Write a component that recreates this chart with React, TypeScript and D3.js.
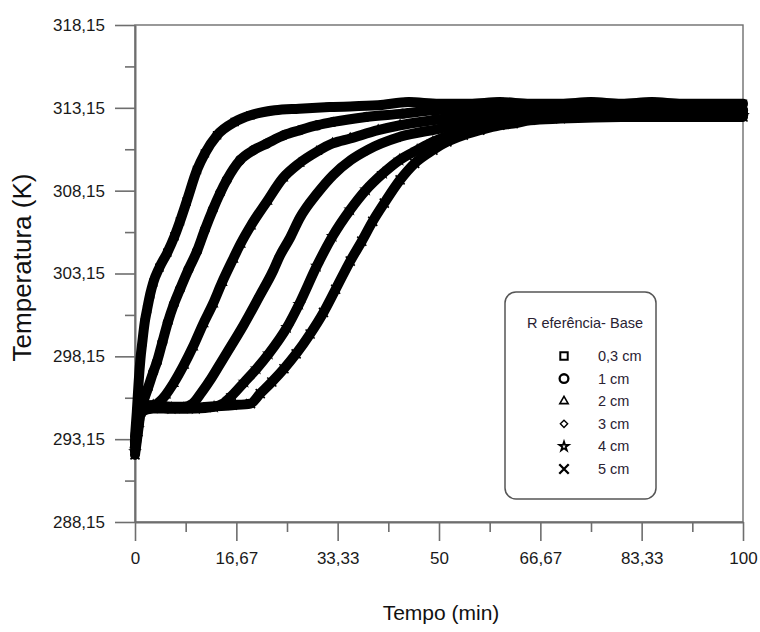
import React, { useEffect, useRef } from 'react';
import * as d3 from 'd3';

// Temperature readings (K) versus time (min) for each sensor depth
const t03 = [0, 0.3, 0.6, 0.9, 1.2, 1.6, 2.0, 2.5, 3.0, 4.0, 5.3, 6.5, 7.4, 8.5, 10.2, 11.5, 13.5, 16.4, 19, 23, 27, 32, 40, 45, 50, 55, 60, 65, 70, 75, 80, 85, 90, 95, 100];
const T03 = [293.3, 294.8, 296.6, 298.0, 299.0, 300.2, 301.0, 301.9, 302.6, 303.5, 304.4, 305.4, 306.3, 307.5, 309.4, 310.4, 311.5, 312.3, 312.7, 313.0, 313.1, 313.2, 313.3, 313.5, 313.4, 313.4, 313.5, 313.4, 313.4, 313.5, 313.4, 313.5, 313.4, 313.4, 313.4];

const t1 = [0, 0.5, 1.0, 1.5, 2.1, 3.0, 3.6, 4.5, 5.4, 6.4, 7.4, 8.8, 10.2, 11.5, 12.8, 14.0, 15.1, 17.3, 19.5, 21.7, 24.5, 27.1, 30, 32.6, 38, 44, 49, 55, 60, 70, 80, 90, 100];
const T1 = [293.0, 294.3, 295.3, 295.6, 296.2, 297.2, 297.8, 299.0, 300.2, 301.3, 302.2, 303.4, 304.5, 305.8, 307.0, 308.0, 308.8, 310.0, 310.6, 311.0, 311.5, 311.8, 312.1, 312.3, 312.6, 312.8, 313.0, 313.1, 313.1, 313.1, 313.1, 313.1, 313.0];

const t2 = [0, 0.5, 1, 2, 3, 4, 5, 6.3, 8, 9.5, 11.2, 12.8, 14.3, 16.1, 17.3, 19, 21.7, 24.3, 27, 29.9, 32.5, 35.4, 40, 43.6, 49, 55, 60, 70, 80, 90, 100];
const T2 = [292.8, 294.2, 295.0, 295.2, 295.2, 295.4, 295.8, 296.5, 297.6, 298.7, 300.1, 301.3, 302.6, 304.0, 304.9, 306.0, 307.5, 308.9, 309.8, 310.5, 311.0, 311.3, 311.8, 312.1, 312.4, 312.7, 312.9, 313.0, 313.0, 312.9, 312.9];

const t3 = [0, 0.5, 1, 3, 6, 8, 9.5, 11, 12.5, 14, 15.5, 17.8, 20.5, 22.7, 23.8, 25.5, 27.1, 30, 32.6, 35.5, 38.2, 43.6, 50.2, 55, 60, 65, 70, 80, 90, 100];
const T3 = [292.7, 294.0, 295.0, 295.2, 295.1, 295.1, 295.3, 296.0, 296.8, 297.7, 298.6, 300.0, 301.8, 303.3, 304.2, 305.3, 306.5, 308.0, 309.1, 310.0, 310.6, 311.4, 311.9, 312.3, 312.5, 312.7, 312.8, 312.8, 312.8, 312.8];

const t4 = [0, 0.5, 1, 3, 6, 10, 13, 14.5, 16, 18, 20, 22, 25, 27, 29.9, 32.5, 35.4, 38, 40.8, 43.5, 46.4, 49, 51.8, 57, 62, 70, 80, 90, 100];
const T4 = [292.4, 293.8, 294.9, 295.1, 295.0, 295.0, 295.1, 295.3, 295.8, 296.6, 297.4, 298.3, 299.9, 301.3, 303.6, 305.4, 307.0, 308.2, 309.2, 310.0, 310.6, 311.1, 311.5, 312.0, 312.4, 312.6, 312.7, 312.7, 312.7];

const t5 = [0, 0.5, 1, 3, 8, 12, 16, 19, 20.6, 22.5, 24.5, 26.5, 28.8, 31, 33, 35.4, 37.3, 39.1, 41, 43.6, 46, 49, 51.3, 54, 56.7, 60, 62.2, 65, 70, 80, 90, 100];
const T5 = [292.2, 293.6, 294.8, 295.0, 295.0, 295.1, 295.2, 295.3, 295.9, 296.6, 297.4, 298.3, 299.5, 300.8, 302.2, 303.9, 305.1, 306.3, 307.4, 308.8, 309.8, 310.6, 311.1, 311.5, 311.8, 312.1, 312.2, 312.4, 312.5, 312.6, 312.6, 312.6];

const seriesLabels = ['0,3 cm', '1 cm', '2 cm', '3 cm', '4 cm', '5 cm'];
const legendTitle = 'R eferência- Base';

const xTickValues = [0, 16.67, 33.33, 50, 66.67, 83.33, 100];
const xTickLabels = ['0', '16,67', '33,33', '50', '66,67', '83,33', '100'];
const yTickValues = [288.15, 293.15, 298.15, 303.15, 308.15, 313.15, 318.15];
const yTickLabels = ['288,15', '293,15', '298,15', '303,15', '308,15', '313,15', '318,15'];

const xTitle = 'Tempo (min)';
const yTitle = 'Temperatura (K)';

const W = 760;
const H = 632;
const PLOT = { left: 135, right: 743, top: 25, bottom: 522 };
const FONT = 'Arial, "Liberation Sans", sans-serif';
const AXIS_COLOR = '#6e6e6e';

const symbolTypes = [d3.symbolSquare2, d3.symbolCircle, d3.symbolTriangle2, d3.symbolDiamond2, d3.symbolStar, d3.symbolTimes];
const curveSymbolSizes = [60, 60, 55, 45, 24, 55];

export default function App() {
  const ref = useRef<SVGSVGElement | null>(null);

  useEffect(() => {
    const svg = d3.select(ref.current);
    svg.selectAll('*').remove();

    const x = d3.scaleLinear().domain([0, 100]).range([PLOT.left, PLOT.right]);
    const y = d3.scaleLinear().domain([288.15, 318.15]).range([PLOT.bottom, PLOT.top]);

    const series = [
      { t: t03, T: T03 },
      { t: t1, T: T1 },
      { t: t2, T: T2 },
      { t: t3, T: T3 },
      { t: t4, T: T4 },
      { t: t5, T: T5 },
    ].map((s, i) => ({
      label: seriesLabels[i],
      symbol: symbolTypes[i],
      size: curveSymbolSizes[i],
      points: s.t.map((tv, j) => ({ t: tv, T: s.T[j] })),
    }));

    // frame
    svg.append('rect')
      .attr('x', PLOT.left).attr('y', PLOT.top)
      .attr('width', PLOT.right - PLOT.left).attr('height', PLOT.bottom - PLOT.top)
      .attr('fill', 'none').attr('stroke', AXIS_COLOR).attr('stroke-width', 1.4);

    const mid = (vals: number[]) => vals.slice(1).map((v, i) => (v + vals[i]) / 2);

    // y axis: major and minor ticks
    const yMajor = svg.append('g').attr('transform', `translate(${PLOT.left},0)`)
      .call(d3.axisLeft(y).tickValues(yTickValues).tickFormat((_, i) => yTickLabels[i]).tickSize(20).tickSizeOuter(0).tickPadding(10));
    const yMinor = svg.append('g').attr('transform', `translate(${PLOT.left},0)`)
      .call(d3.axisLeft(y).tickValues(mid(yTickValues)).tickFormat(() => '').tickSize(10).tickSizeOuter(0));
    yMinor.select('.domain').remove();

    // x axis: major and minor ticks
    const xMajor = svg.append('g').attr('transform', `translate(0,${PLOT.bottom})`)
      .call(d3.axisBottom(x).tickValues(xTickValues).tickFormat((_, i) => xTickLabels[i]).tickSize(19).tickSizeOuter(0).tickPadding(11));
    const xMinor = svg.append('g').attr('transform', `translate(0,${PLOT.bottom})`)
      .call(d3.axisBottom(x).tickValues(mid(xTickValues)).tickFormat(() => '').tickSize(10).tickSizeOuter(0));
    xMinor.select('.domain').remove();

    [yMajor, yMinor, xMajor, xMinor].forEach((g) => {
      g.selectAll('line').attr('stroke', AXIS_COLOR).attr('stroke-width', 1.6);
      g.selectAll('.domain').attr('stroke', AXIS_COLOR).attr('stroke-width', 2);
      g.selectAll('text').attr('font-family', FONT).attr('font-size', 17).attr('fill', '#1a1a1a');
    });

    // axis titles
    svg.append('text')
      .attr('x', (PLOT.left + PLOT.right) / 2 + 2).attr('y', 620)
      .attr('text-anchor', 'middle').attr('font-family', FONT).attr('font-size', 21).attr('fill', '#111')
      .text(xTitle);
    svg.append('text')
      .attr('transform', `translate(31,${(PLOT.top + PLOT.bottom) / 2 - 6}) rotate(-90)`)
      .attr('text-anchor', 'middle').attr('font-family', FONT).attr('font-size', 26).attr('fill', '#111')
      .text(yTitle);

    // curves: dense marker bands
    const line = d3.line<{ t: number; T: number }>()
      .x((d) => x(d.t)).y((d) => y(d.T))
      .curve(d3.curveMonotoneX);

    const gData = svg.append('g');
    series.slice().reverse().forEach((s) => {
      gData.append('path')
        .attr('d', line(s.points))
        .attr('fill', 'none').attr('stroke', '#000').attr('stroke-width', 10)
        .attr('stroke-linejoin', 'round').attr('stroke-linecap', 'round');
      const sym = d3.symbol().type(s.symbol).size(s.size);
      gData.selectAll(null).data(s.points).enter().append('path')
        .attr('d', sym())
        .attr('transform', (d) => `translate(${x(d.t)},${y(d.T)})`)
        .attr('fill', 'none').attr('stroke', '#000').attr('stroke-width', 1.6);
    });

    // legend
    const lg = svg.append('g');
    lg.append('rect')
      .attr('x', 505).attr('y', 292).attr('width', 151).attr('height', 207)
      .attr('rx', 11).attr('ry', 11)
      .attr('fill', '#fff').attr('stroke', '#555').attr('stroke-width', 1.5);
    lg.append('text')
      .attr('x', 585).attr('y', 328).attr('text-anchor', 'middle')
      .attr('font-family', FONT).attr('font-size', 14.5).attr('fill', '#2a2233')
      .text(legendTitle);
    const legendSizes = [70, 60, 50, 34, 26, 60];
    const legendStrokes = [2, 2.3, 1.6, 1.4, 1.8, 2.3];
    series.forEach((s, i) => {
      const yy = 356 + i * 22.6;
      lg.append('path')
        .attr('d', d3.symbol().type(s.symbol).size(legendSizes[i])())
        .attr('transform', `translate(564,${yy})`)
        .attr('fill', 'none').attr('stroke', '#000').attr('stroke-width', legendStrokes[i]);
      lg.append('text')
        .attr('x', 598).attr('y', yy + 5)
        .attr('font-family', FONT).attr('font-size', 14.5).attr('fill', '#2a2233')
        .text(s.label);
    });
  }, []);

  return (
    <svg
      ref={ref}
      width={W}
      height={H}
      style={{ position: 'absolute', left: 0, top: 0, background: '#fff' }}
    />
  );
}
